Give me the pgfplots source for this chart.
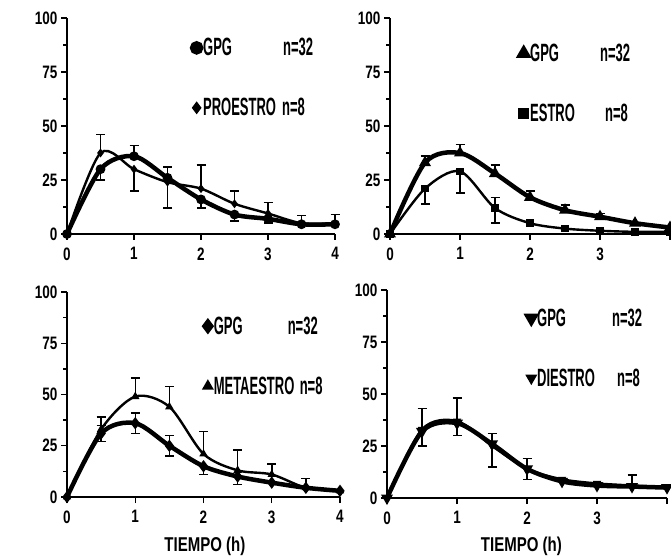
\documentclass[border=0pt]{standalone}
\usepackage{fontspec}
\setmainfont{Liberation Sans}[FakeStretch=0.75]
\newfontfamily\legfont{Liberation Sans}[FakeStretch=0.52]
\usepackage{pgfplots}
\pgfplotsset{compat=1.18}

\newcommand{\tickfont}{\fontsize{18}{19}\bfseries\selectfont}
\newcommand{\lblfont}{\legfont\fontsize{25}{26}\bfseries\selectfont}
\pgfplotsset{
  panel/.style={scale only axis, anchor=south west,
    xmin=0, xmax=4, ymin=0, ymax=100,
    axis lines*=left, axis line style={line width=1.8pt},
    xtick={0,1,2,3,4}, ytick={0,25,50,75,100}, minor y tick num=1,
    tick align=outside, major tick length=6pt, minor tick length=4pt,
    tick style={line width=1.4pt, black},
    /pgf/number format/assume math mode=true,
    tick label style={font=\tickfont},
    xticklabel style={yshift=-4pt},
    label style={font=\fontsize{20}{21}\bfseries\selectfont},
    clip=false,
    legend style={draw=none, fill=none, anchor=north west, row sep=37pt,
      font=\lblfont},
    legend cell align=left,
    legend image code/.code={\draw[#1, only marks, mark size=4.5pt] plot coordinates {(0.1cm,0cm)};},
    error bars/y dir=both, error bars/y explicit,
    error bars/error bar style={line width=1.5pt},
    error bars/error mark options={rotate=90, mark size=4.5pt, line width=1.5pt}},
  gpg/.style={black, line width=4.5pt, smooth, mark size=2.5pt},
  grp/.style={black, line width=2.4pt, smooth, mark size=2.5pt},
}

\begin{document}
\begin{tikzpicture}
\useasboundingbox (0,0) rectangle (671pt,557pt);

% top left: proestro
\begin{axis}[panel, at={(67pt,323pt)}, width=268pt, height=216pt,
  legend style={at={(rel axis cs:0.455,0.925)}}]
\addplot[gpg, mark=*] coordinates {
  (0,0) (0.5,30) -= (0,5) (1,36) += (0,5) (1.5,26) (2,16) -= (0,4)
  (2.5,9) -= (0,3) (3,7) -= (0,2) (3.5,4.5) (4,4.5)};
\addplot[grp, mark=diamond*] coordinates {
  (0,0) (0.5,37.5) += (0,8.5) (1,30) -= (0,10) (1.5,24) += (0,7) -= (0,12)
  (2,21) += (0,11) (2.5,14) += (0,6) (3,9.5) += (0,5) (3.5,5) += (0,3.5) (4,5) += (0,4)};
\legend{\makebox[80pt][l]{GPG}n=32, \makebox[79pt][l]{PROESTRO}n=8}
\end{axis}

% top right: estro
\begin{axis}[panel, at={(390pt,323pt)}, width=280pt, height=216pt,
  xticklabels={0,1,2,3,{}},
  legend style={at={(rel axis cs:0.45,0.90)}}]
\addplot[gpg, mark=triangle*] coordinates {
  (0,0) (0.5,33) += (0,3) (1,37.5) += (0,4) (1.5,28) += (0,4) (2,17) += (0,3)
  (2.5,11) += (0,2.5) (3,8) += (0,1.5) (3.5,5) (4,3)};
\addplot[grp, mark=square*] coordinates {
  (0,0) (0.5,21) -= (0,7) (1,29) -= (0,10) (1.5,12) += (0,5) -= (0,7)
  (2,5) (2.5,2.5) (3,1.5) (3.5,1) (4,1)};
\legend{\makebox[70pt][l]{GPG}n=32, \makebox[75pt][l]{ESTRO}n=8}
\end{axis}

% bottom left: metaestro
\begin{axis}[panel, at={(67pt,60pt)}, width=273pt, height=205pt,
  legend style={at={(rel axis cs:0.49,0.90)}},
  xlabel={TIEMPO (h)}, xlabel style={at={(axis description cs:0.505,0)}, anchor=center, yshift=-49pt}]
\addplot[gpg, mark=diamond*] coordinates {
  (0,0) (0.5,31) += (0,4) -= (0,4) (1,36) += (0,5) -= (0,5) (1.5,25) += (0,5) -= (0,5)
  (2,15) -= (0,4) (2.5,10) -= (0,4) (3,7) (3.5,4.5) (4,3)};
\addplot[grp, mark=triangle*] coordinates {
  (0,0) (0.5,33) += (0,6) (1,49) += (0,9) (1.5,44) += (0,10) (2,21) += (0,11)
  (2.5,13) += (0,10) (3,11) += (0,5) (3.5,4.5) += (0,4.5) (4,3)};
\legend{\makebox[74pt][l]{GPG}n=32, \makebox[86pt][l]{METAESTRO}n=8}
\end{axis}

% bottom right: diestro
\begin{axis}[panel, at={(387pt,59pt)}, width=280pt, height=208pt,
  xticklabels={0,1,2,3,{}},
  legend style={at={(rel axis cs:0.49,0.93)}},
  xlabel={TIEMPO (h)}, xlabel style={at={(axis description cs:0.48,0)}, anchor=center, yshift=-48pt}]
\addplot[gpg, mark=triangle*, mark options={rotate=180}] coordinates {
  (0,0) (0.5,32) += (0,11) -= (0,7) (1,36) += (0,12) -= (0,6) (1.5,26) += (0,5) -= (0,11)
  (2,14) += (0,5) -= (0,5) (2.5,8) (3,6) (3.5,5.5) += (0,5.5) (4,5)};
\addplot[grp, mark=triangle*, mark options={rotate=180}] coordinates {
  (0,0) (0.5,33) (1,37) (1.5,25) (2,14) (2.5,9) (3,7) (3.5,6) (4,5)};
\legend{\makebox[75pt][l]{GPG}n=32, \makebox[80pt][l]{DIESTRO}n=8}
\end{axis}
\end{tikzpicture}
\end{document}
